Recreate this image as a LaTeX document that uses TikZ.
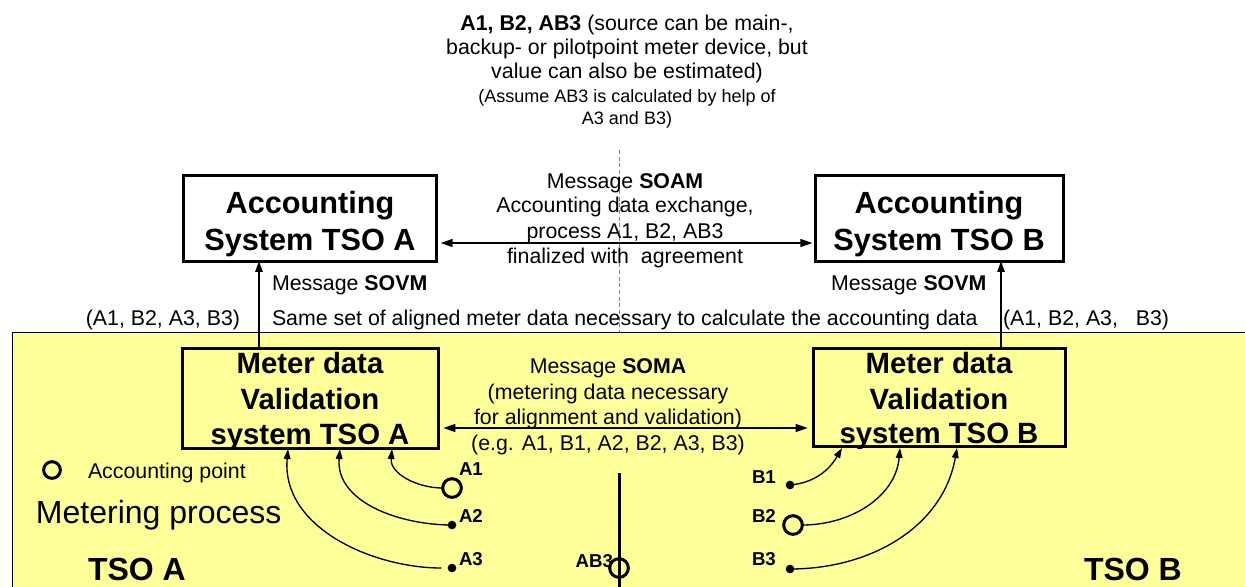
\documentclass[tikz,border=0pt]{standalone}
\usepackage{fontspec}
\setmainfont{Liberation Sans}
\usetikzlibrary{arrows.meta,calc}
\definecolor{tsoyellow}{HTML}{FFFF99}
\begin{document}
\begin{tikzpicture}[x=0.75pt,y=-0.75pt,
  every node/.style={inner sep=0pt, outer sep=0pt},
  txt/.style={font=\fontsize{16}{19}\selectfont},
  smalltxt/.style={font=\fontsize{13.5}{16}\selectfont},
  sysbox/.style={draw, line width=2.25pt, rectangle},
  boxtitle/.style={font=\fontsize{23}{28}\selectfont\bfseries},
  metertitle/.style={font=\fontsize{22}{26}\selectfont\bfseries},
  ptlabel/.style={font=\fontsize{14}{16}\selectfont\bfseries},
  bigtxt/.style={font=\fontsize{24}{28}\selectfont},
  apt/.style={circle, draw, line width=2.25pt, minimum size=14pt},
  mdot/.style={circle, fill, minimum size=6.5pt},
  msg/.style={{Triangle[length=9pt,width=6pt]}-{Triangle[length=9pt,width=6pt]}, line width=1.1pt},
  upar/.style={-{Triangle[length=8pt,width=5.5pt]}, line width=1.1pt},
  feed/.style={-{Triangle[length=7.5pt,width=5pt]}, line width=1pt},
]
\useasboundingbox (0,0) rectangle (1245,586);
\clip (0,0) rectangle (1245,586);

% TSO area
\fill[tsoyellow, draw=black, line width=0.75pt] (12,332) rectangle (1300,650);

% dashed border line
\coordinate (dtop) at (619,150);
\coordinate (dbot) at (619,332);
\draw[gray, line width=0.75pt, dash pattern=on 3pt off 2pt] (dtop) -- (dbot);

% top text
\node[txt, anchor=base] (t1) at (627,30) {\textbf{A1, B2, AB3} (source can be main-,};
\node[txt, anchor=base] (t2) at (627,54) {backup- or pilotpoint meter device, but};
\node[txt, anchor=base] (t3) at (627,78) {value can also be estimated)};
\node[smalltxt, anchor=base] (t4) at (627,102) {(Assume AB3 is calculated by help of};
\node[smalltxt, anchor=base] (t5) at (627,124) {A3 and B3)};

% boxes
\node[sysbox, fill=white, minimum width=190pt, minimum height=64pt] (aA) at (310,218.5) {};
\node[sysbox, fill=white, minimum width=186pt, minimum height=64pt] (aB) at (939,218.5) {};
\node[sysbox, minimum width=192pt, minimum height=75pt] (mA) at (310,398) {};
\node[sysbox, minimum width=189pt, minimum height=74pt] (mB) at (939,397.5) {};

\node[boxtitle, anchor=base] (aAt1) at (310,213) {Accounting};
\node[boxtitle, anchor=base] (aAt2) at (310,250) {System TSO A};
\node[boxtitle, anchor=base] (aBt1) at (939,213) {Accounting};
\node[boxtitle, anchor=base] (aBt2) at (939,250) {System TSO B};

\node[metertitle, anchor=base] (mAt1) at (310,373) {Meter data};
\node[metertitle, anchor=base] (mAt2) at (310,409) {Validation};
\node[metertitle, anchor=base] (mAt3) at (310,444) {system TSO A};
\node[metertitle, anchor=base] (mBt1) at (939,373) {Meter data};
\node[metertitle, anchor=base] (mBt2) at (939,409) {Validation};
\node[metertitle, anchor=base] (mBt3) at (939,443) {system TSO B};

% SOAM
\node[txt, anchor=base] (s1) at (625,188) {Message \textbf{SOAM}};
\node[txt, anchor=base] (s2) at (625,212) {Accounting data exchange,};
\node[txt, anchor=base] (s3) at (625,238) {process A1, B2, AB3};
\node[txt, anchor=base] (s4) at (625,263) {finalized with\ \ agreement};
\coordinate (soamY) at (0,243);
\draw[msg, shorten <=3pt, shorten >=2pt] (aA.east |- soamY) -- (aB.west |- soamY);

% SOVM
\coordinate (sovmAx) at (259,0);
\coordinate (sovmBx) at (1001,0);
\draw[upar] (mA.north -| sovmAx) -- (aA.south -| sovmAx);
\draw[upar] (mB.north -| sovmBx) -- (aB.south -| sovmBx);
\node[txt, anchor=base west] (v1) at (272,290) {Message \textbf{SOVM}};
\node[txt, anchor=base west] (v2) at (831,290) {Message \textbf{SOVM}};
\node[txt, anchor=base east] (l1) at (240,325) {(A1, B2, A3, B3)};
\node[txt, anchor=base west] (l2) at (272,325) {Same set of aligned meter data necessary to calculate the accounting data};
\node[txt, anchor=base west] (l3) at (1003,325) {(A1, B2, A3,\ \ \ B3)};

% SOMA
\node[txt, anchor=base] (m1) at (608,373) {Message \textbf{SOMA}};
\node[txt, anchor=base] (m2) at (608,399) {(metering data necessary};
\node[txt, anchor=base] (m3) at (608,424) {for alignment and validation)};
\node[txt, anchor=base] (m4) at (608,450) {(e.g. A1, B1, A2, B2, A3, B3)};
\coordinate (somaY) at (0,428);
\draw[msg, shorten <=4pt, shorten >=4pt] (mA.east |- somaY) -- (mB.west |- somaY);

% legend
\node[apt, minimum size=12.5pt] (leg) at (52,470) {};
\node[txt, anchor=base west] (legt) at (88,478) {Accounting point};
\node[bigtxt, anchor=base west] (mp) at (36,523) {Metering process};
\node[bigtxt, font=\fontsize{24}{28}\selectfont\bfseries, anchor=base west] (tsoa) at (88,580) {TSO A};
\node[bigtxt, font=\fontsize{24}{28}\selectfont\bfseries, anchor=base west] (tsob) at (1084,580) {TSO B};

% metering points A
\node[apt] (a1) at (452,488) {};
\node[mdot] (a2) at (452,525) {};
\node[mdot] (a3) at (452,568) {};
\node[ptlabel, anchor=base west] at (459,475) {A1};
\node[ptlabel, anchor=base west] at (459,522) {A2};
\node[ptlabel, anchor=base west] at (459,565) {A3};

% border point AB3
\coordinate (abtop) at (619,473);
\coordinate (abbot) at (619,600);
\draw[line width=2.25pt] (abtop) -- (abbot);
\node[apt] (ab3) at (619,568) {};
\node[ptlabel, anchor=base east] at (613,567) {AB3};

% metering points B
\node[mdot] (b1) at (790,485) {};
\node[apt] (b2) at (793,525) {};
\node[mdot] (b3) at (790,569) {};
\node[ptlabel, anchor=base west] at (752,483) {B1};
\node[ptlabel, anchor=base west] at (752,522) {B2};
\node[ptlabel, anchor=base west] at (752,565) {B3};

% feeds into validation systems
\coordinate (iA1) at (392,449);
\coordinate (iA2) at (340,449);
\coordinate (iA3) at (288,449);
\coordinate (iB1) at (842,448);
\coordinate (iB2) at (900,448);
\coordinate (iB3) at (957,448);
\draw[feed] (a1.west) to[out=180,in=-95] (iA1);
\draw[feed] (a2.center) to[out=180,in=-95] (iA2);
\draw[feed, shorten <=8pt] (a3.center) to[out=180,in=-95] (iA3);
\draw[feed] (b1.center) to[out=5,in=-120] (iB1);
\draw[feed] (b2.east) to[out=0,in=-95] (iB2);
\draw[feed] (b3.center) to[out=0,in=-100] (iB3);
\end{tikzpicture}
\end{document}
